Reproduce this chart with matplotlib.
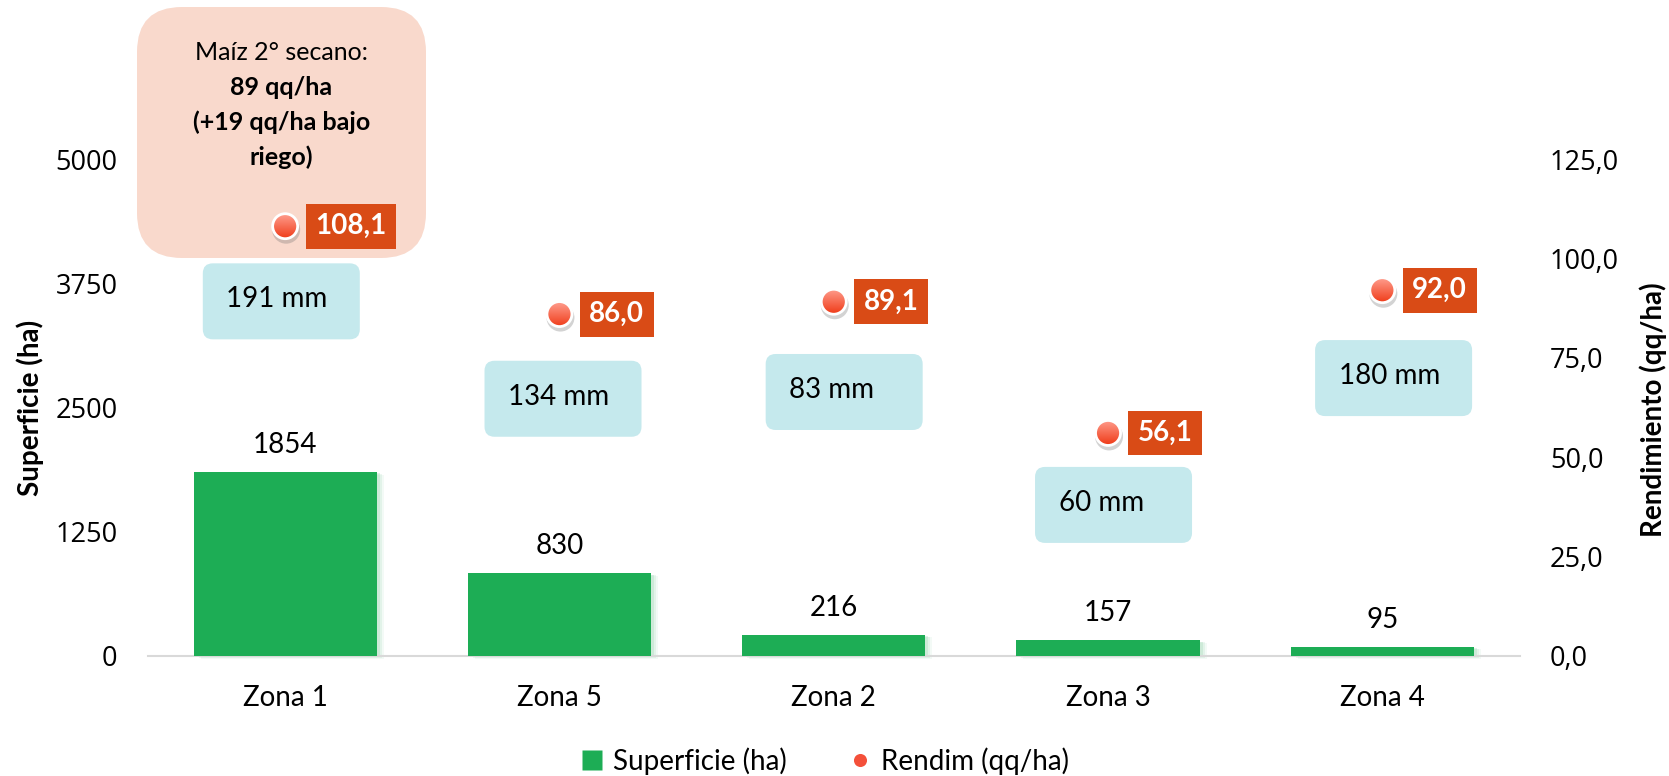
import matplotlib
matplotlib.use("Agg")
import matplotlib.pyplot as plt
from matplotlib.patches import FancyBboxPatch, Rectangle, Ellipse
from matplotlib.lines import Line2D
from matplotlib.colors import to_rgb
import numpy as np

plt.rcParams['font.family'] = ['Lato', 'DejaVu Sans']

# ---- data ----
zonas = ["Zona 1", "Zona 5", "Zona 2", "Zona 3", "Zona 4"]
superficie = [1854, 830, 216, 157, 95]          # ha
rendimiento = [108.1, 86.0, 89.1, 56.1, 92.0]   # qq/ha
lluvia = ["191 mm", "134 mm", "83 mm", "60 mm", "180 mm"]
nota = ["Maíz 2° secano:", "89 qq/ha", "(+19 qq/ha bajo", "riego)"]
sup_ticks = [0, 1250, 2500, 3750, 5000]
ren_ticks = [0, 25, 50, 75, 100, 125]

# ---- layout of the rain call-outs (offset from category, centre on yield axis) ----
caja_dx = [-0.014, 0.013, 0.038, 0.020, 0.041]
caja_y = [89.2, 64.7, 66.4, 38.0, 69.9]

VERDE = '#1DAD55'
NARANJA = '#D94B16'
CELESTE = '#C5E9ED'
ROSA = '#F9D9CC'
PUNTO_ARRIBA = '#FF9D8D'
PUNTO_ABAJO = '#EF3A17'

W, H = 1669, 776
fig = plt.figure(figsize=(W / 100, H / 100), dpi=100)
ax_l, ax_r, ax_t, ax_b = 148, 1519.5, 159, 656
ax = fig.add_axes([ax_l / W, (H - ax_b) / H, (ax_r - ax_l) / W, (ax_b - ax_t) / H])

x = np.arange(len(zonas))
ax.set_xlim(-0.5, len(zonas) - 0.5)
ax.set_ylim(0, 5000)

# px -> data scale factors
xpp = (len(zonas)) / (ax_r - ax_l)
bar_ypp = 5000 / (ax_b - ax_t)
ypp = 125 / (ax_b - ax_t)

# soft shadow to the right of the bars
bw = 0.668
for off, a in [(7, 0.10), (5, 0.16), (3, 0.25)]:
    for xi, s in zip(x, superficie):
        ax.add_patch(Rectangle((xi - bw / 2 + off * xpp, -off * 0.4 * bar_ypp), bw, s,
                               color='#8FD3A8', alpha=a, lw=0, zorder=2, clip_on=False))
ax.bar(x, superficie, width=bw, color=VERDE, zorder=3)

for xi, s in zip(x, superficie):
    ax.annotate(f"{s}", (xi, s), xytext=(0, 13.7), textcoords='offset points',
                ha='center', va='baseline', fontsize=20, color='black', zorder=5)

for sp in ['top', 'left', 'right']:
    ax.spines[sp].set_visible(False)
ax.spines['bottom'].set_color('#D9D9D9')
ax.spines['bottom'].set_linewidth(1.5)
ax.set_yticks(sup_ticks)
ax.set_yticklabels([str(t) for t in sup_ticks], fontfamily='Open Sans', fontsize=19.5)
ax.set_xticks(x)
ax.set_xticklabels(zonas, fontsize=20)
ax.tick_params(axis='y', length=0, pad=22)
ax.tick_params(axis='x', length=0, pad=21)

ax2 = ax.twinx()
ax2.set_ylim(0, 125)
ax2.set_yticks(ren_ticks)
ax2.set_yticklabels([f"{t:.1f}".replace('.', ',') for t in ren_ticks],
                    fontfamily='Open Sans', fontsize=19.5)
ax2.tick_params(axis='y', length=0, pad=22)
for sp in ax2.spines.values():
    sp.set_visible(False)

aspect = ypp / xpp

# note box over the first zone
nx0, nx1, ny0, ny1 = 137, 426, 7, 258
rosa = FancyBboxPatch((-0.5 + (nx0 - ax_l) * xpp, (ax_b - ny1) * ypp),
                      (nx1 - nx0) * xpp, (ny1 - ny0) * ypp,
                      boxstyle=f"round,pad=0,rounding_size={45 * xpp}",
                      mutation_aspect=aspect, fc=ROSA, ec='none',
                      zorder=1, clip_on=False)
ax2.add_patch(rosa)
ncx = -0.5 + ((nx0 + nx1) / 2 - ax_l) * xpp
for k, linea in enumerate(nota):
    ax2.text(ncx, (ax_b - (52 + 35 * k)) * ypp, linea, ha='center', va='center',
             fontsize=18, fontweight='normal' if k == 0 else 'bold',
             color='black', zorder=2, clip_on=False)

# rain call-outs
bw_px, bh_px = 157, 76
for i, txt in enumerate(lluvia):
    cx = x[i] + caja_dx[i]
    cy = caja_y[i]
    wd, hd = bw_px * xpp, bh_px * ypp
    ax2.add_patch(FancyBboxPatch((cx - wd / 2, cy - hd / 2), wd, hd,
                                 boxstyle=f"round,pad=0,rounding_size={10 * xpp}",
                                 mutation_aspect=aspect, fc=CELESTE, ec='none', zorder=2))
    ax2.text(cx - wd / 2 + 23.5 * xpp, cy + 2 * ypp, txt, ha='left', va='center',
             fontsize=20, color='black', zorder=3)

# yield points: drop shadow, vertical colour gradient, white rim
r_px = 12.5
rx, ry = r_px * xpp, r_px * ypp
top_c, bot_c = np.array(to_rgb(PUNTO_ARRIBA)), np.array(to_rgb(PUNTO_ABAJO))
t = np.linspace(0, 1, 64)[:, None, None]
grad = top_c[None, None, :] * (1 - t) + bot_c[None, None, :] * t
for xi, v in zip(x, rendimiento):
    ax2.add_patch(Ellipse((xi + 1 * xpp, v - 3.5 * ypp), 2 * rx + 3 * xpp, 2 * ry + 3 * ypp,
                          fc='#6E6E6E', ec='none', alpha=0.3, zorder=5))
    clip = Ellipse((xi, v), 2 * rx, 2 * ry, transform=ax2.transData)
    im = ax2.imshow(grad, extent=[xi - rx, xi + rx, v - ry, v + ry], aspect='auto',
                    interpolation='bilinear', zorder=6)
    im.set_clip_path(clip)
    ax2.add_patch(Ellipse((xi, v), 2 * rx, 2 * ry, fc='none', ec='white', lw=2, zorder=6.5))
ax2.set_xlim(-0.5, len(zonas) - 0.5)
ax2.set_ylim(0, 125)

for xi, v in zip(x, rendimiento):
    ax2.annotate(f"{v:.1f}".replace('.', ','), (xi, v), xytext=(21.5, 0),
                 textcoords='offset points', ha='left', va='center',
                 fontsize=20, fontweight='bold', color='white', zorder=7,
                 bbox=dict(boxstyle='square,pad=0.34', fc=NARANJA, ec='none'))

# axis titles
fig.text(30 / W, 1 - 408 / H, 'Superficie (ha)', rotation=90, ha='center', va='center',
         fontsize=20, fontweight='bold')
fig.text(1653 / W, 1 - 410 / H, 'Rendimiento (qq/ha)', rotation=90, ha='center',
         va='center', fontsize=20, fontweight='bold')

# legend
handles = [Line2D([], [], marker='s', ls='none', ms=13.7, mfc=VERDE, mec='none'),
           Line2D([], [], marker='o', ls='none', ms=9.4, mfc='#F4503A', mec='none')]
fig.legend(handles, ['Superficie (ha)', 'Rendim (qq/ha)'], loc='center',
           bbox_to_anchor=(824.5 / W, 1 - 761 / H), ncol=2, frameon=False,
           fontsize=20, handlelength=0.9, handletextpad=0.3, columnspacing=2.2,
           borderpad=0, borderaxespad=0)

fig.savefig('out.png', dpi=100, facecolor='white')
